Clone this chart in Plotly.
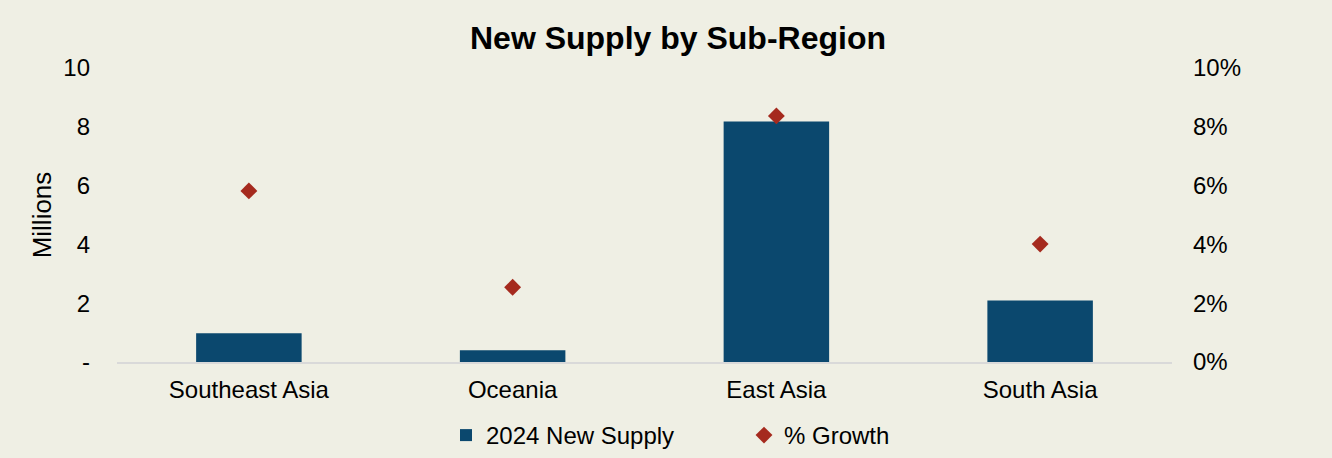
import plotly.graph_objects as go

categories = ["Southeast Asia", "Oceania", "East Asia", "South Asia"]
new_supply = [0.98, 0.40, 8.18, 2.09]          # millions
growth = [0.0582, 0.0254, 0.0837, 0.0401]       # fraction
left_ticks = [0, 2, 4, 6, 8, 10]
left_ticktext = ["-", "2", "4", "6", "8", "10"]
right_ticks = [0, 0.02, 0.04, 0.06, 0.08, 0.10]

BG = "#EFEFE4"
BAR = "#0B486E"
DIA = "#A52A1E"
FONT = "Liberation Sans, Arial, sans-serif"

fig = go.Figure()
fig.add_trace(go.Bar(
    x=categories, y=new_supply, name="2024 New Supply",
    marker=dict(color=BAR, line=dict(width=0)), width=0.4, yaxis="y",
))
fig.add_trace(go.Scatter(
    x=categories, y=growth, name="% Growth", mode="markers",
    marker=dict(symbol="diamond", color=DIA, size=13, line=dict(width=0)),
    yaxis="y2",
))

fig.update_layout(
    width=1332, height=458,
    paper_bgcolor=BG, plot_bgcolor=BG,
    margin=dict(l=117, r=160, t=68, b=96, autoexpand=False),
    font=dict(family=FONT, size=24, color="#000000"),
    title=dict(text="<b>New Supply by Sub-Region</b>", x=0.509, xanchor="center",
               y=1 - 38 / 458, yanchor="middle",
               font=dict(family=FONT, size=32, color="#000000")),
    xaxis=dict(showgrid=False, showline=True, linecolor="#D9D9D9", linewidth=2,
               ticks="", ticklabelstandoff=5, zeroline=False),
    yaxis=dict(range=[0, 10], tickvals=left_ticks, ticktext=left_ticktext,
               showgrid=False, zeroline=False, showline=False, ticks="",
               ticklabelstandoff=26,
               title=dict(text="Millions", font=dict(size=26), standoff=4)),
    yaxis2=dict(range=[0, 0.10], tickvals=right_ticks, tickformat=".0%",
                overlaying="y", side="right", showgrid=False, zeroline=False,
                showline=False, ticks="", ticklabelstandoff=20),
    legend=dict(orientation="h", x=(446 - 117) / 1055, xanchor="left",
                yref="container", y=(458 - 413) / 458, yanchor="top",
                font=dict(size=24), bgcolor="rgba(0,0,0,0)", entrywidth=253,
                entrywidthmode="pixels", traceorder="normal"),
    bargap=0.6,
)

fig.write_html("out.html", config={"displayModeBar": False},
               post_script="document.body.style.margin='0';")
